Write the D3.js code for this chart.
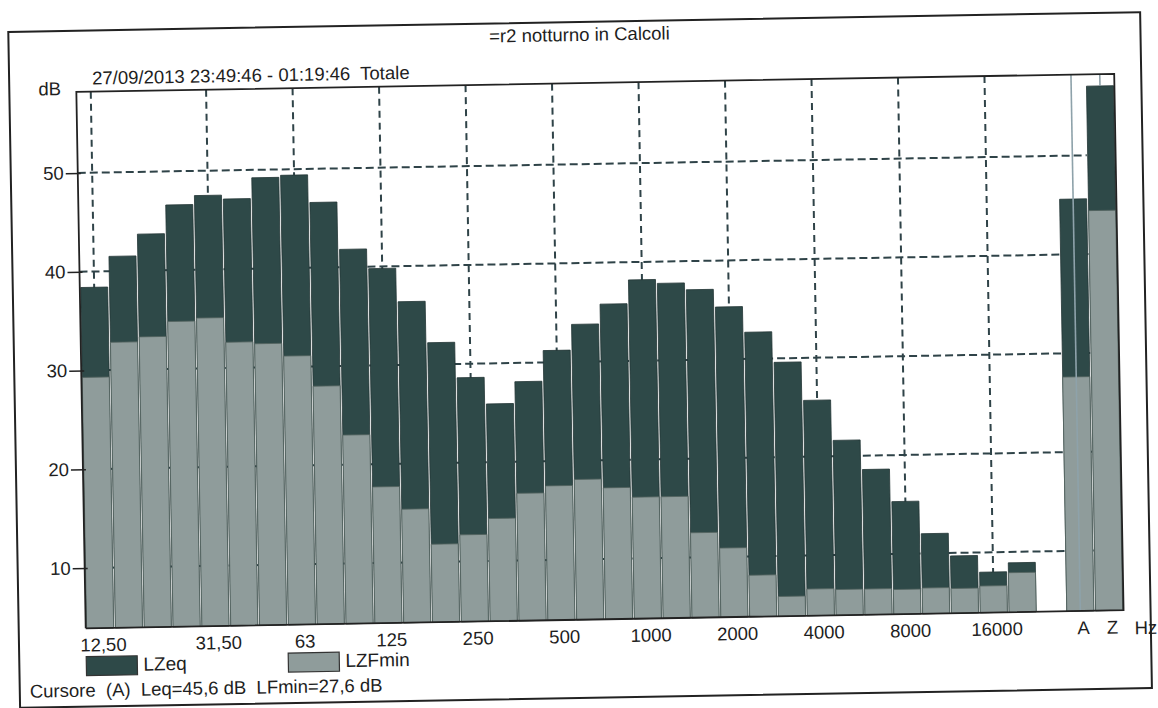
<!DOCTYPE html>
<html><head><meta charset="utf-8">
<script src="https://cdn.jsdelivr.net/npm/d3@7"></script>
<style>
body{margin:0;background:#fff}
svg{display:block}
text{font-family:"Liberation Sans",Arial,sans-serif;fill:#1e1e1e;white-space:pre}
</style>
</head><body>
<svg id="c" width="1158" height="708"></svg>
<script>
const title = "=r2 notturno in Calcoli";
const subtitle = "27/09/2013 23:49:46 - 01:19:46  Totale";
const yUnit = "dB";
const xUnit = "Hz";
const bands = ["12.5","16","20","25","31.5","40","50","63","80","100","125","160","200","250","315","400","500","630","800","1000","1250","1600","2000","2500","3150","4000","5000","6300","8000","10000","12500","16000","20000"];
const lzeq   = [38.4,41.5,43.7,46.6,47.5,47.1,49.2,49.4,46.6,41.8,39.8,36.4,32.2,28.6,25.9,28.1,31.2,33.8,35.8,38.2,37.8,37.1,35.3,32.7,29.6,25.7,21.6,18.6,15.3,12.0,9.7,8.0,8.9];
const lzfmin = [29.3,32.8,33.3,34.8,35.1,32.6,32.4,31.1,28.0,23.0,17.7,15.4,11.8,12.7,14.3,16.8,17.5,18.1,17.2,16.2,16.2,12.5,10.9,8.1,5.9,6.6,6.5,6.5,6.4,6.5,6.4,6.6,7.9];
const totals = ["A","Z"];
const totalEq = [45.6, 57.0];
const totalMin = [27.6, 44.4];
const tickBands = ["12.5","31.5","63","125","250","500","1000","2000","4000","8000","16000"];
const tickLabels = ["12,50","31,50","63","125","250","500","1000","2000","4000","8000","16000"];
const yTicks = [10,20,30,40,50];
const seriesNames = ["LZeq","LZFmin"];
const cursorText = "Cursore  (A)  Leq=45,6 dB  LFmin=27,6 dB";

(function(){
const cDark = "#2e4948", cGrey = "#8f9c9b", cLine = "#222", cGrid = "#2f4348";
const FONT = "Liberation Sans, Arial, sans-serif";
const FS = 18.5;

const svg = d3.select("#c");
const g = svg.append("g").attr("transform","rotate(-1,579,354)");

const pL = 81, pR = 1119, pT = 83.2, pB = 619.7;
const x = d3.scaleBand().domain([...bands, "gap", ...totals]).range([pL, pR]).padding(0);
const y = d3.scaleLinear().domain([3.9, 58.2]).range([pB, pT]);
const bw = x.bandwidth();

// outer frame
g.append("rect").attr("x",14).attr("y",22).attr("width",1132).attr("height",676)
  .attr("fill","none").attr("stroke",cLine).attr("stroke-width",2);

// title & header
g.append("text").attr("x",585).attr("y",41).attr("text-anchor","middle").attr("font-size",FS).text(title);
g.append("text").attr("x",43).attr("y",86).attr("font-size",FS).text(yUnit);
g.append("text").attr("x",97).attr("y",76).attr("font-size",FS).text(subtitle);

// grid
g.append("g").selectAll("line").data(yTicks).join("line")
  .attr("x1",pL).attr("x2",x("Z")).attr("y1",d=>y(d)).attr("y2",d=>y(d))
  .attr("stroke",cGrid).attr("stroke-width",2).attr("stroke-dasharray","8,4");
g.append("g").selectAll("line").data(tickBands).join("line")
  .attr("x1",d=>x(d)+bw/2).attr("x2",d=>x(d)+bw/2).attr("y1",pT).attr("y2",pB)
  .attr("stroke",cGrid).attr("stroke-width",2).attr("stroke-dasharray","7,5");

// bars
const spec = bands.map((b,i)=>({b, eq:lzeq[i], mn:lzfmin[i]}));
const tot = totals.map((b,i)=>({b, eq:totalEq[i], mn:totalMin[i]}));
const all = spec.concat(tot);
const bars = g.append("g");
bars.selectAll("rect.eq").data(all).join("rect").attr("class","eq")
  .attr("x",d=>x(d.b)+0.9).attr("width",bw-1.8)
  .attr("y",d=>y(d.eq)).attr("height",d=>pB-y(d.eq))
  .attr("fill",cDark).attr("stroke","#233636").attr("stroke-width",0.8);
bars.selectAll("rect.mn").data(all).join("rect").attr("class","mn")
  .attr("x",d=>x(d.b)+0.9).attr("width",bw-1.8)
  .attr("y",d=>y(d.mn)).attr("height",d=>pB-y(d.mn))
  .attr("fill",cGrey).attr("stroke","#52625f").attr("stroke-width",0.8);

// cursor line on A, marker on Z
g.append("line").attr("x1",x("A")+bw/2).attr("x2",x("A")+bw/2).attr("y1",pT).attr("y2",pB)
  .attr("stroke","#8ea2aa").attr("stroke-width",1.6);
g.append("line").attr("x1",x("Z")+bw/2).attr("x2",x("Z")+bw/2).attr("y1",pT).attr("y2",y(totalEq[1]))
  .attr("stroke","#7f949c").attr("stroke-width",1.4);

// plot frame
g.append("path").attr("d",`M${pL},${pB}V${pT}H${pR}V${pB}H${pL}`)
  .attr("fill","none").attr("stroke",cLine).attr("stroke-width",1.8);

// y axis
const ya = g.append("g").attr("transform",`translate(${pL+3},0)`)
  .call(d3.axisLeft(y).tickValues(yTicks).tickSize(15).tickPadding(2));
ya.select(".domain").remove();
ya.selectAll("line").attr("stroke",cLine).attr("stroke-width",1.5);
ya.selectAll("text").attr("font-size",FS).attr("font-family",FONT).attr("fill","#1e1e1e");

// x axis labels
const lab = new Map(tickBands.map((b,i)=>[b,tickLabels[i]]));
const xa = g.append("g").attr("transform",`translate(3,${pB})`)
  .call(d3.axisBottom(x).tickValues([...tickBands, ...totals]).tickSize(0).tickPadding(10)
    .tickFormat(d=>lab.get(d) || d));
xa.select(".domain").remove();
xa.selectAll("text").attr("font-size",FS).attr("font-family",FONT).attr("fill","#1e1e1e");
g.append("text").attr("x",1141).attr("y",644).attr("text-anchor","middle").attr("font-size",FS).text(xUnit);

// legend
const leg = [{n:seriesNames[0],c:cDark,x:81},{n:seriesNames[1],c:cGrey,x:283}];
const lg = g.append("g").selectAll("g").data(leg).join("g").attr("transform",d=>`translate(${d.x},648)`);
lg.append("rect").attr("width",51).attr("height",19).attr("fill",d=>d.c).attr("stroke","#333").attr("stroke-width",1.2);
lg.append("text").attr("x",57).attr("y",15).attr("font-size",19).text(d=>d.n);

g.append("text").attr("x",24).attr("y",688).attr("font-size",FS).text(cursorText);
})();
</script>
</body></html>
